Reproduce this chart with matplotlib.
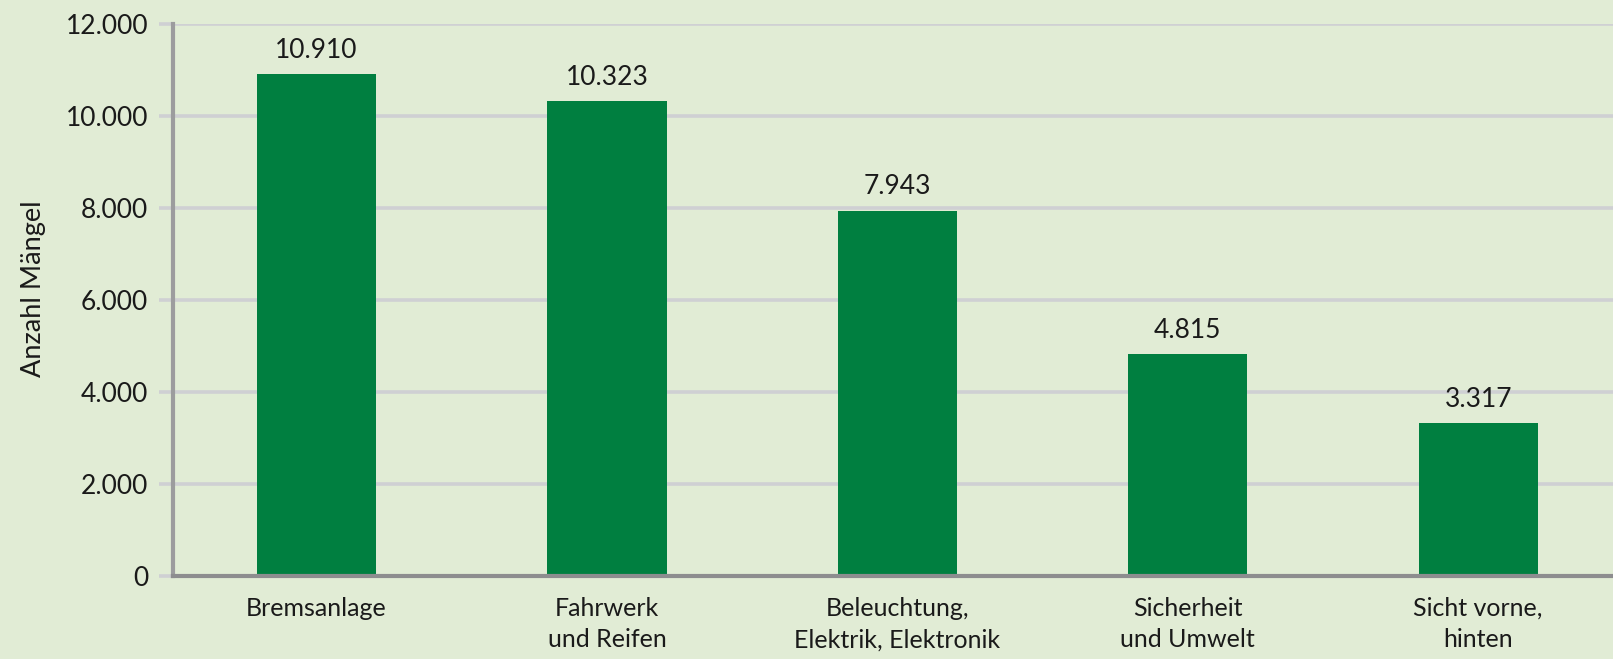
import matplotlib
matplotlib.use("Agg")
import matplotlib.pyplot as plt
from matplotlib.ticker import FuncFormatter

# Mängel nach Baugruppe
kategorien = ["Bremsanlage", "Fahrwerk\nund Reifen", "Beleuchtung,\nElektrik, Elektronik",
              "Sicherheit\nund Umwelt", "Sicht vorne,\nhinten"]
anzahl = [10910, 10323, 7943, 4815, 3317]
y_ticks = [0, 2000, 4000, 6000, 8000, 10000, 12000]

bg = "#e1ecd5"
gruen = "#007f40"
grid_col = "#cfd0d3"

plt.rcParams['font.family'] = ['Lato', 'DejaVu Sans']

fig = plt.figure(figsize=(16.13, 6.59), dpi=100, facecolor=bg)
ax = fig.add_axes([0.1073, 0.126, 0.8927, 0.8376])
ax.set_facecolor(bg)

def de_fmt(v, pos=None):
    return f"{int(round(v)):,}".replace(",", ".")

x = list(range(len(kategorien)))
bars = ax.bar(x, anzahl, width=0.41, color=gruen, zorder=3)

for xi, v in zip(x, anzahl):
    ax.text(xi, v + 250, de_fmt(v), ha="center", va="bottom", fontsize=19, color="#1a1a1a")

ax.set_xlim(-0.494, 4.464)
ax.set_ylim(0, 12000)
ax.set_yticks(y_ticks)
ax.yaxis.set_major_formatter(FuncFormatter(de_fmt))
ax.yaxis.grid(True, color=grid_col, linewidth=2.6, zorder=0)
ax.set_axisbelow(True)
ax.tick_params(axis="y", length=10, width=2.6, color=grid_col, pad=8,
               labelsize=19, labelcolor="#1a1a1a")
ax.set_xticks(x)
ax.set_xticklabels(kategorien, fontsize=18, color="#1a1a1a", linespacing=1.45)
ax.tick_params(axis="x", length=0, pad=15)

for s in ["top", "right"]:
    ax.spines[s].set_visible(False)
ax.spines["left"].set_color("#9c9c9e")
ax.spines["left"].set_linewidth(3)
ax.spines["bottom"].set_color("#8d8d8f")
ax.spines["bottom"].set_linewidth(3)
ax.spines["bottom"].set_zorder(4)

ax.set_ylabel("Anzahl Mängel", fontsize=19.5, color="#1a1a1a", labelpad=24)
ax.yaxis.set_label_coords(-0.088, 0.52)

fig.savefig("out.png", dpi=100, facecolor=bg)
